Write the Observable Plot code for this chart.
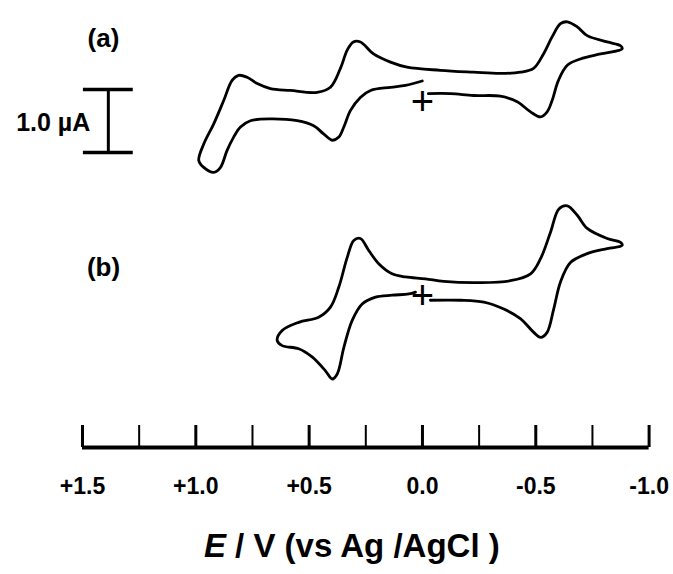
<!DOCTYPE html>
<html><head><meta charset="utf-8">
<script src="https://cdn.jsdelivr.net/npm/d3@7"></script>
<script src="https://cdn.jsdelivr.net/npm/@observablehq/plot@0.6"></script>
<style>body{margin:0;background:#fff;} svg{display:block;}</style>
</head><body><div id="chart"></div>
<script>
// Potential E (V vs Ag/AgCl) and current I (µA, relative to each trace's zero "+")
const curveA_E = [-0.026,-0.124,-0.225,-0.344,-0.418,-0.477,-0.521,-0.550,-0.572,-0.600,-0.639,-0.697,-0.786,-0.881,-0.874,-0.815,-0.727,-0.683,-0.639,-0.609,-0.572,-0.534,-0.490,-0.432,-0.344,-0.225,-0.079,0.068,0.141,0.216,0.274,0.305,0.332,0.362,0.406,0.465,0.583,0.671,0.729,0.774,0.811,0.840,0.877,0.921,0.965,0.987,0.965,0.921,0.891,0.862,0.833,0.803,0.759,0.671,0.553,0.480,0.436,0.398,0.369,0.347,0.318,0.274,0.229,0.141,0.075,0.001];
const curveA_I = [0.14,0.14,0.11,0.10,0.01,-0.15,-0.23,-0.15,0.03,0.35,0.59,0.69,0.77,0.85,0.90,0.96,1.06,1.20,1.28,1.25,1.04,0.77,0.54,0.48,0.46,0.48,0.51,0.56,0.64,0.77,0.96,0.96,0.83,0.54,0.24,0.16,0.19,0.22,0.30,0.40,0.43,0.35,0.03,-0.34,-0.66,-0.92,-1.03,-1.11,-1.03,-0.76,-0.55,-0.39,-0.29,-0.26,-0.29,-0.37,-0.50,-0.60,-0.55,-0.39,-0.13,0.08,0.19,0.24,0.27,0.34];
const curveB_E = [-0.035,-0.168,-0.271,-0.359,-0.432,-0.491,-0.521,-0.550,-0.579,-0.609,-0.653,-0.727,-0.815,-0.881,-0.874,-0.815,-0.727,-0.683,-0.639,-0.602,-0.565,-0.521,-0.477,-0.388,-0.241,-0.094,-0.013,0.075,0.134,0.193,0.237,0.274,0.303,0.332,0.369,0.406,0.458,0.546,0.619,0.641,0.619,0.546,0.487,0.428,0.398,0.376,0.347,0.310,0.266,0.207,0.134,0.060,0.031];
const curveB_I = [-0.06,-0.06,-0.09,-0.20,-0.35,-0.57,-0.65,-0.57,-0.20,0.23,0.54,0.68,0.76,0.81,0.86,0.92,1.08,1.29,1.44,1.39,1.02,0.60,0.36,0.25,0.22,0.24,0.28,0.31,0.36,0.52,0.73,0.92,0.89,0.62,0.15,-0.17,-0.33,-0.41,-0.54,-0.70,-0.78,-0.83,-0.96,-1.18,-1.31,-1.23,-0.81,-0.38,-0.12,-0.01,0.02,0.04,0.07];
const curveNames = ["(a)", "(b)"];
const curveOffsets = [3.08, 0];           // vertical stacking of the traces, µA
const xTicksMajor = [1.5, 1.0, 0.5, 0.0, -0.5, -1.0];
const xTickLabels = ["+1.5", "+1.0", "+0.5", "0.0", "-0.5", "-1.0"];
const xTicksMinor = [1.25, 0.75, 0.25, -0.25, -0.75];
const scaleBarValue = 1.0;                // µA
const scaleBarLabel = "1.0 µA";
const scaleBarE = 1.386;
const scaleBarBase = 2.286;
const xTitle = "E / V (vs Ag /AgCl )";

const traces = [[curveA_E, curveA_I], [curveB_E, curveB_I]];
const lineData = traces.flatMap(([E, I], k) =>
  E.map((e, i) => ({curve: curveNames[k], E: e, I: I[i] + curveOffsets[k]})));
const zeroMarks = curveOffsets.map((o, k) => ({curve: curveNames[k], E: 0, I: o}));

const W = 673, H = 574;
const font = "'Liberation Sans', Arial, Helvetica, sans-serif";
const yDomain = [-2.397, 4.698];

const plot = Plot.plot({
  width: W, height: H,
  marginLeft: 82, marginRight: 24.4, marginTop: 0, marginBottom: 127,
  style: {fontFamily: font, background: "#fff", color: "#000"},
  x: {domain: [1.5, -1.0], axis: null},
  y: {domain: yDomain, axis: null},
  marks: [
    Plot.line(lineData, {x: "E", y: "I", z: "curve", curve: "catmull-rom", stroke: "#000", strokeWidth: 2.8, strokeLinejoin: "round"}),
    Plot.text(zeroMarks, {x: "E", y: "I", text: () => "+", fontSize: 40, fontWeight: "normal", fill: "#000", lineAnchor: "middle"}),
    // labels (a), (b)
    Plot.text([curveNames[0]], {frameAnchor: "top-left", dx: 21, dy: 38, textAnchor: "middle", lineAnchor: "middle", fontSize: 26, fontWeight: "bold"}),
    Plot.text([curveNames[1]], {frameAnchor: "top-left", dx: 21, dy: 267, textAnchor: "middle", lineAnchor: "middle", fontSize: 26, fontWeight: "bold"}),
    // scale bar
    Plot.ruleX([scaleBarE], {y1: scaleBarBase, y2: scaleBarBase + scaleBarValue, strokeWidth: 3}),
    Plot.ruleY([scaleBarBase, scaleBarBase + scaleBarValue], {x1: scaleBarE + 0.11, x2: scaleBarE - 0.11, strokeWidth: 3.5}),
    Plot.text([scaleBarLabel], {x: scaleBarE, y: scaleBarBase + scaleBarValue / 2, textAnchor: "end", lineAnchor: "middle", dx: -18, dy: 2, fontSize: 25, fontWeight: "bold"}),
    // x axis
    Plot.ruleY([yDomain[0]], {strokeWidth: 4}),
    Plot.ruleX(xTicksMajor, {strokeWidth: 3, insetTop: 425}),
    Plot.ruleX(xTicksMinor, {strokeWidth: 2, insetTop: 425}),
    Plot.axisX(xTicksMajor, {tickSize: 0, tickPadding: 30, tickFormat: d => xTickLabels[xTicksMajor.indexOf(d)], fontSize: 23, fontWeight: "bold", label: null}),
    Plot.text([xTitle], {frameAnchor: "bottom", dx: -14, dy: 99, textAnchor: "middle", lineAnchor: "middle", fontSize: 33, fontWeight: "bold"})
  ]
});

d3.select(plot).selectAll("text").filter(function() { return this.textContent === xTitle; }).each(function() {
  const t = d3.select(this);
  t.text(null);
  t.append("tspan").attr("font-style", "italic").text("E");
  t.append("tspan").text(" / V (vs Ag /AgCl )");
});
document.getElementById("chart").appendChild(plot);
</script>
</body></html>
